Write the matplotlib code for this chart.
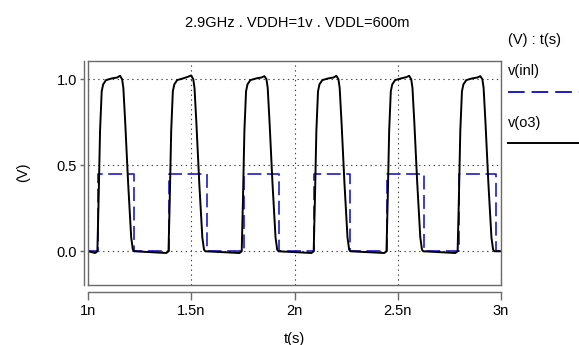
import matplotlib
matplotlib.use('Agg')
import matplotlib.pyplot as plt
from matplotlib.lines import Line2D

plt.rcParams['font.family'] = ['Liberation Sans', 'DejaVu Sans']
plt.rcParams['lines.scale_dashes'] = False

title = '2.9GHz . VDDH=1v . VDDL=600m'

# v(inl): square wave, edge times in ns and high level in V
in_rise = [1.046, 1.393, 1.753, 2.093, 2.449, 2.797]
in_fall = [1.224, 1.575, 1.926, 2.271, 2.627, 2.975]
in_high = 0.45

# v(o3): points, one row per pulse (ns, V)
out_t = [1.000,
         1.033, 1.044, 1.050, 1.057, 1.065, 1.072, 1.086, 1.115, 1.140, 1.154, 1.164, 1.170, 1.179, 1.193, 1.208, 1.216, 1.222,
         1.378, 1.389, 1.395, 1.402, 1.410, 1.417, 1.431, 1.460, 1.485, 1.499, 1.509, 1.515, 1.524, 1.538, 1.553, 1.561, 1.567,
         1.733, 1.744, 1.750, 1.757, 1.765, 1.772, 1.786, 1.815, 1.840, 1.854, 1.864, 1.870, 1.879, 1.893, 1.908, 1.916, 1.922,
         2.082, 2.093, 2.099, 2.106, 2.114, 2.121, 2.135, 2.164, 2.189, 2.203, 2.213, 2.219, 2.228, 2.242, 2.257, 2.265, 2.271,
         2.435, 2.446, 2.452, 2.459, 2.467, 2.474, 2.488, 2.517, 2.542, 2.556, 2.566, 2.572, 2.581, 2.595, 2.610, 2.618, 2.624,
         2.780, 2.791, 2.797, 2.804, 2.812, 2.819, 2.833, 2.862, 2.887, 2.901, 2.911, 2.917, 2.926, 2.940, 2.955, 2.963, 2.969,
         3.000]
out_v = [0.0,
         -0.01, 0.0, 0.30, 0.70, 0.93, 0.97, 0.995, 1.005, 1.01, 1.02, 1.00, 0.95, 0.75, 0.40, 0.08, 0.01, 0.0,
         -0.01, 0.0, 0.30, 0.70, 0.93, 0.97, 0.995, 1.005, 1.015, 1.022, 1.00, 0.95, 0.75, 0.40, 0.08, 0.01, 0.0,
         -0.01, 0.0, 0.30, 0.70, 0.93, 0.97, 0.995, 1.005, 1.01, 1.018, 1.00, 0.95, 0.75, 0.40, 0.08, 0.01, 0.0,
         -0.01, 0.0, 0.30, 0.70, 0.93, 0.97, 0.995, 1.005, 1.01, 1.02, 1.00, 0.95, 0.75, 0.40, 0.08, 0.01, 0.0,
         -0.01, 0.0, 0.30, 0.70, 0.93, 0.97, 0.995, 1.005, 1.012, 1.02, 1.00, 0.95, 0.75, 0.40, 0.08, 0.01, 0.0,
         -0.01, 0.0, 0.30, 0.70, 0.93, 0.97, 0.995, 1.005, 1.01, 1.018, 1.00, 0.95, 0.75, 0.40, 0.08, 0.01, 0.0,
         0.0]

x_ticks = [1.0, 1.5, 2.0, 2.5, 3.0]
x_labels = ['1n', '1.5n', '2n', '2.5n', '3n']
y_ticks = [0.0, 0.5, 1.0]
y_labels = ['0.0', '0.5', '1.0']

blue = '#1c1cc4'
dash = (10, 4)

# build the step trace of the input from its edges
in_t = [1.0]
in_v = [0.0]
for r, f in zip(in_rise, in_fall):
    in_t += [r, r, f, f]
    in_v += [0.0, in_high, in_high, 0.0]
in_t.append(3.0)
in_v.append(0.0)

fig = plt.figure(figsize=(5.79, 3.45), dpi=100)
pos = [0.1525, 0.1739, 0.7123, 0.6493]

# plot box with dotted grid
ax = fig.add_axes(pos)
ax.plot(in_t, in_v, color=blue, lw=1.2, dashes=dash)
ax.plot(out_t, out_v, color='black', lw=1.4)
ax.set_xlim(1, 3)
ax.set_ylim(-0.196, 1.106)
ax.set_xticks(x_ticks)
ax.set_yticks(y_ticks)
ax.tick_params(length=0, labelbottom=False, labelleft=False)
ax.grid(True, color='#444444', linestyle=(0, (1, 2.5)), linewidth=0.8)
for s in ax.spines.values():
    s.set_color('#6a6a6a')
    s.set_linewidth(1.0)

# detached axis lines with ticks
ax2 = fig.add_axes(pos)
ax2.patch.set_visible(False)
ax2.set_xlim(1, 3)
ax2.set_ylim(-0.196, 1.106)
ax2.spines['top'].set_visible(False)
ax2.spines['right'].set_visible(False)
ax2.spines['left'].set_position(('outward', 3))
ax2.spines['bottom'].set_position(('outward', 5))
for s in ('left', 'bottom'):
    ax2.spines[s].set_color('#6a6a6a')
    ax2.spines[s].set_linewidth(1.0)
ax2.set_xticks(x_ticks, x_labels)
ax2.set_yticks(y_ticks, y_labels)
ax2.tick_params(axis='x', length=6, width=1.0, color='#6a6a6a', pad=3, labelsize=10.5)
ax2.tick_params(axis='y', length=3, width=1.0, color='#6a6a6a', pad=2, labelsize=10.5)

fig.text(0.513, 0.933, title, ha='center', va='center', fontsize=10.5)
fig.text(0.508, 0.017, 't(s)', ha='center', va='center', fontsize=10.5)
fig.text(0.040, 0.501, '(V)', ha='center', va='center', rotation=90, fontsize=10.5)
fig.text(0.924, 0.884, '(V) : t(s)', ha='center', va='center', fontsize=10.5)

# legend on the right
fig.text(0.877, 0.795, 'v(inl)', ha='left', va='center', fontsize=10.5)
fig.lines.append(Line2D([0.877, 1.0], [0.734, 0.734], transform=fig.transFigure,
                        color=blue, lw=1.4, dashes=(12, 5)))
fig.text(0.877, 0.644, 'v(o3)', ha='left', va='center', fontsize=10.5)
fig.lines.append(Line2D([0.877, 1.0], [0.585, 0.585], transform=fig.transFigure,
                        color='black', lw=1.4))

fig.savefig('out.png', dpi=100)
